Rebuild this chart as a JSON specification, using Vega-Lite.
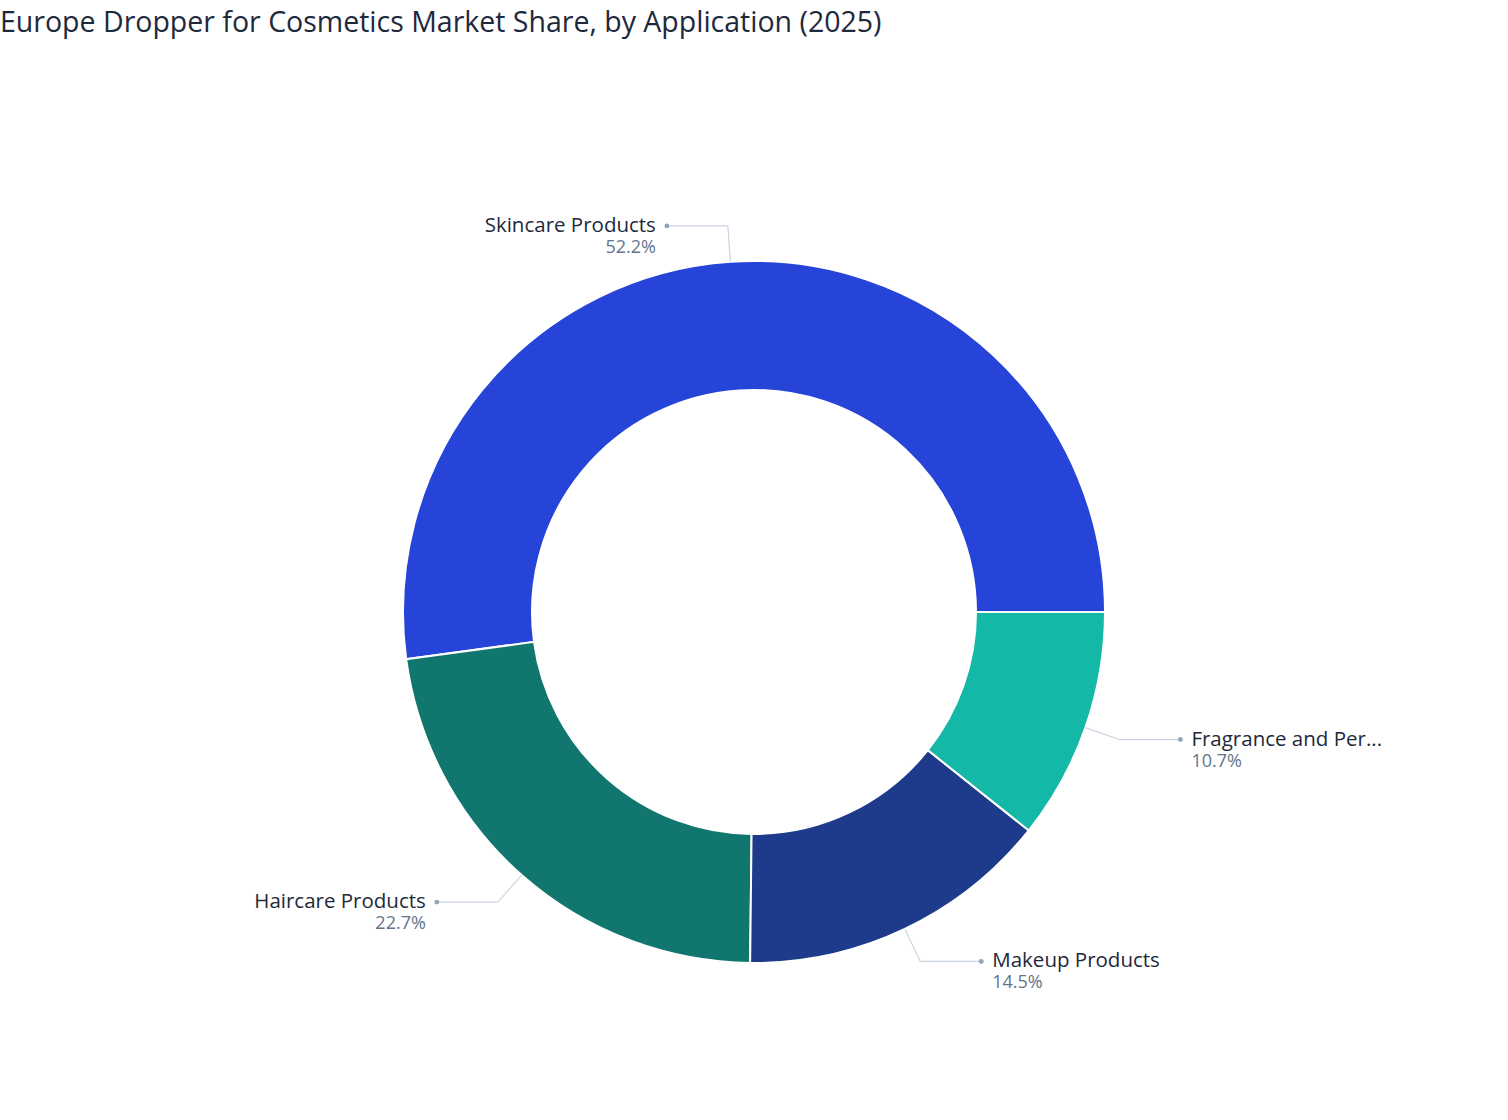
{
  "$schema": "https://vega.github.io/schema/vega-lite/v6.json",
  "width": 1508,
  "height": 1104,
  "autosize": {"type": "none"},
  "padding": {"left": 0, "top": 60, "right": 0, "bottom": 0},
  "background": "white",
  "config": {"view": {"stroke": null}, "font": "Open Sans"},
  "title": {
    "text": "Europe Dropper for Cosmetics Market Share, by Application (2025)",
    "anchor": "start",
    "frame": "group",
    "fontSize": 28.5,
    "fontWeight": 500,
    "font": "Open Sans",
    "color": "#1e293b",
    "offset": 23
  },
  "data": {
    "values": [
      {"application": "Skincare Products", "share": 52.2, "order": 4},
      {"application": "Haircare Products", "share": 22.7, "order": 3},
      {"application": "Makeup Products", "share": 14.5, "order": 2},
      {"application": "Fragrance and Perfumes", "share": 10.7, "order": 1}
    ]
  },
  "transform": [
    {"joinaggregate": [{"op": "sum", "field": "share", "as": "total"}]},
    {"window": [{"op": "sum", "field": "share", "as": "cum"}], "sort": [{"field": "order", "order": "ascending"}], "frame": [null, 0]},
    {"calculate": "PI/2 + 2*PI*(datum.cum - datum.share/2)/datum.total", "as": "mid"},
    {"calculate": "sin(datum.mid)", "as": "sx"},
    {"calculate": "cos(datum.mid)", "as": "cy"},
    {"calculate": "datum.sx >= 0 ? 1 : -1", "as": "side"},
    {"calculate": "351*datum.sx", "as": "x0"},
    {"calculate": "351*datum.cy", "as": "y0"},
    {"calculate": "387*datum.sx", "as": "x1"},
    {"calculate": "387*datum.cy", "as": "y1"},
    {"calculate": "datum.x1 + 61*datum.side", "as": "x2"},
    {"calculate": "datum.x2 + 11*datum.side", "as": "x3"},
    {"calculate": "datum.y1 - 22", "as": "y3"},
    {"calculate": "format(datum.share, '.1f') + '%'", "as": "pct"}
  ],
  "layer": [
    {
      "mark": {"type": "arc", "innerRadius": 222, "outerRadius": 351, "stroke": "white", "strokeWidth": 2},
      "encoding": {
        "theta": {"field": "share", "type": "quantitative", "stack": true, "scale": {"range": [1.5707963, 7.8539816]}},
        "order": {"field": "order", "type": "quantitative", "sort": "ascending"},
        "color": {
          "field": "application", "type": "nominal", "legend": null,
          "scale": {
            "domain": ["Skincare Products", "Haircare Products", "Makeup Products", "Fragrance and Perfumes"],
            "range": ["#2744d9", "#10766e", "#1e3a8a", "#14b8a6"]
          }
        }
      }
    },
    {
      "mark": {"type": "rule", "color": "#cbd5e1", "strokeWidth": 1.2},
      "encoding": {
        "x": {"field": "x0", "type": "quantitative", "scale": {"domain": [-754, 754]}, "axis": null},
        "y": {"field": "y0", "type": "quantitative", "scale": {"domain": [-552, 552]}, "axis": null},
        "x2": {"field": "x1"},
        "y2": {"field": "y1"}
      }
    },
    {
      "mark": {"type": "rule", "color": "#cbd5e1", "strokeWidth": 1.2},
      "encoding": {
        "x": {"field": "x1", "type": "quantitative", "scale": {"domain": [-754, 754]}, "axis": null},
        "y": {"field": "y1", "type": "quantitative", "scale": {"domain": [-552, 552]}, "axis": null},
        "x2": {"field": "x2"}
      }
    },
    {
      "mark": {"type": "point", "filled": true, "size": 24, "color": "#94a3b8", "opacity": 1},
      "encoding": {
        "x": {"field": "x2", "type": "quantitative", "scale": {"domain": [-754, 754]}, "axis": null},
        "y": {"field": "y1", "type": "quantitative", "scale": {"domain": [-552, 552]}, "axis": null}
      }
    },
    {
      "transform": [{"filter": "datum.side > 0"}],
      "mark": {"type": "text", "align": "left", "baseline": "middle", "fontSize": 20.5, "fontWeight": 500, "color": "#1e293b", "limit": 196, "ellipsis": "..."},
      "encoding": {
        "x": {"field": "x3", "type": "quantitative", "scale": {"domain": [-754, 754]}, "axis": null},
        "y": {"field": "y1", "type": "quantitative", "scale": {"domain": [-552, 552]}, "axis": null},
        "text": {"field": "application"}
      }
    },
    {
      "transform": [{"filter": "datum.side < 0"}],
      "mark": {"type": "text", "align": "right", "baseline": "middle", "fontSize": 20.5, "fontWeight": 500, "color": "#1e293b", "limit": 196, "ellipsis": "..."},
      "encoding": {
        "x": {"field": "x3", "type": "quantitative", "scale": {"domain": [-754, 754]}, "axis": null},
        "y": {"field": "y1", "type": "quantitative", "scale": {"domain": [-552, 552]}, "axis": null},
        "text": {"field": "application"}
      }
    },
    {
      "transform": [{"filter": "datum.side > 0"}],
      "mark": {"type": "text", "align": "left", "baseline": "middle", "fontSize": 18, "color": "#64748b"},
      "encoding": {
        "x": {"field": "x3", "type": "quantitative", "scale": {"domain": [-754, 754]}, "axis": null},
        "y": {"field": "y3", "type": "quantitative", "scale": {"domain": [-552, 552]}, "axis": null},
        "text": {"field": "pct"}
      }
    },
    {
      "transform": [{"filter": "datum.side < 0"}],
      "mark": {"type": "text", "align": "right", "baseline": "middle", "fontSize": 18, "color": "#64748b"},
      "encoding": {
        "x": {"field": "x3", "type": "quantitative", "scale": {"domain": [-754, 754]}, "axis": null},
        "y": {"field": "y3", "type": "quantitative", "scale": {"domain": [-552, 552]}, "axis": null},
        "text": {"field": "pct"}
      }
    }
  ]
}
